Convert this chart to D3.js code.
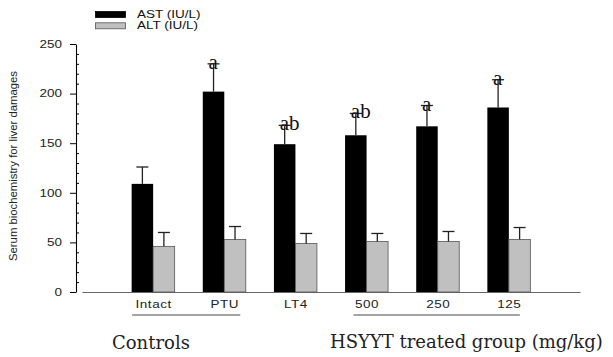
<!DOCTYPE html>
<html>
<head>
<meta charset="utf-8">
<script src="https://cdn.jsdelivr.net/npm/d3@7/dist/d3.min.js"></script>
<style>
  html, body { margin: 0; padding: 0; background: #fff; }
  svg { display: block; }
</style>
</head>
<body>
<svg id="chart" width="613" height="357"></svg>
<script>
// ---- data ----
const categories = ["Intact", "PTU", "LT4", "500", "250", "125"];
const astValues = [109, 202, 149, 158, 167, 186];
const astErrors = [17, 28, 19, 22, 21, 28];
const altValues = [46, 53, 49, 51, 51, 53];
const altErrors = [14, 13, 10, 8, 10, 12];
const sigLabels = ["", "a", "ab", "ab", "a", "a"];
const yTicks = [0, 50, 100, 150, 200, 250];
const seriesNames = ["AST (IU/L)", "ALT (IU/L)"];
const groupLabels = ["Controls", "HSYYT treated group (mg/kg)"];

// ---- layout ----
const svg = d3.select("#chart");
const SX = 1.35; // horizontal stretch of sans text
const sans = "Liberation Sans, Arial, sans-serif";

const y = d3.scaleLinear().domain([0, 250]).range([292, 44]);
const x = d3.scalePoint().domain(categories).range([82, 580]).padding(1);
const barW = 21.5;

// y axis
const yAxis = svg.append("g").attr("transform", "translate(76,0)")
  .call(d3.axisLeft(y).tickValues(yTicks).tickSize(6).tickSizeOuter(0).tickPadding(14));
yAxis.select(".domain").attr("stroke", "#000").attr("stroke-width", 1.1);
yAxis.selectAll(".tick line").attr("stroke", "#000");
yAxis.selectAll(".tick text")
  .attr("font-family", sans).attr("font-size", 10).attr("fill", "#222")
  .attr("x", -14 / SX).attr("transform", `scale(${SX},1)`);

// minor ticks (inward)
const minor = d3.range(0, 251, 10).filter(v => v % 50 !== 0);
const yMinor = svg.append("g").attr("transform", "translate(76,0)")
  .call(d3.axisRight(y).tickValues(minor).tickSize(3).tickFormat(""));
yMinor.select(".domain").remove();
yMinor.selectAll(".tick line").attr("stroke", "#000");

// x axis
const xAxis = svg.append("g").attr("transform", "translate(0,292)")
  .call(d3.axisBottom(x).tickSize(0).tickSizeOuter(0).tickPadding(9));
xAxis.select(".domain").attr("stroke", "#666").attr("stroke-width", 1.2);
xAxis.selectAll(".tick text")
  .attr("font-family", sans).attr("font-size", 10).attr("fill", "#222")
  .attr("transform", `scale(${SX},1)`).attr("letter-spacing", 0.4);

// bars
const groups = svg.append("g");
categories.forEach((c, i) => {
  const cx = x(c);
  // AST
  groups.append("rect")
    .attr("x", cx - barW).attr("y", y(astValues[i]))
    .attr("width", barW).attr("height", y(0) - y(astValues[i]))
    .attr("fill", "#000");
  // ALT
  groups.append("rect")
    .attr("x", cx).attr("y", y(altValues[i]))
    .attr("width", barW).attr("height", y(0) - y(altValues[i]))
    .attr("fill", "#c0c0c0").attr("stroke", "#555").attr("stroke-width", 0.8);
  // error bars
  [[cx - barW / 2, astValues[i], astErrors[i]], [cx + barW / 2, altValues[i], altErrors[i]]]
    .forEach(([ex, v, e]) => {
      groups.append("line").attr("x1", ex).attr("x2", ex)
        .attr("y1", y(v)).attr("y2", y(v + e)).attr("stroke", "#222").attr("stroke-width", 1.3);
      groups.append("line").attr("x1", ex - 6).attr("x2", ex + 6)
        .attr("y1", y(v + e)).attr("y2", y(v + e)).attr("stroke", "#222").attr("stroke-width", 1.3);
    });
  // significance labels
  if (sigLabels[i]) {
    groups.append("text")
      .attr("x", cx - barW / 2 - 5).attr("y", y(astValues[i] + astErrors[i]) + 5)
      .attr("font-family", "Liberation Serif, Times New Roman, serif")
      .attr("font-size", 21).attr("fill", "#111")
      .text(sigLabels[i]);
  }
});

// legend
const legend = svg.append("g");
seriesNames.forEach((name, i) => {
  const ly = 11.5 + i * 11.3;
  legend.append("rect").attr("x", 95.5).attr("y", ly).attr("width", 30).attr("height", 6)
    .attr("fill", i === 0 ? "#000" : "#c0c0c0").attr("stroke", i === 0 ? "#000" : "#555")
    .attr("stroke-width", 0.8);
  legend.append("text")
    .attr("transform", `translate(137,${ly + 6.3}) scale(${SX},1)`)
    .attr("font-family", sans).attr("font-size", 10).attr("fill", "#111")
    .text(name);
});

// y label
svg.append("text")
  .attr("transform", "translate(17,166) rotate(-90)")
  .attr("text-anchor", "middle")
  .attr("font-family", sans).attr("font-size", 10.5).attr("fill", "#222")
  .attr("textLength", 190).attr("lengthAdjust", "spacingAndGlyphs")
  .text("Serum biochemistry for liver damages");

// group underlines
svg.append("line").attr("x1", x("Intact") - 21).attr("x2", x("PTU") + 16)
  .attr("y1", 315).attr("y2", 315).attr("stroke", "#333").attr("stroke-width", 0.9);
svg.append("line").attr("x1", x("500") - 13).attr("x2", x("125") + 11)
  .attr("y1", 315).attr("y2", 315).attr("stroke", "#333").attr("stroke-width", 0.9);

// group labels
svg.append("text").attr("x", 112).attr("y", 349)
  .attr("font-family", "DejaVu Serif, serif").attr("font-size", 18).attr("fill", "#222")
  .text(groupLabels[0]);
svg.append("text").attr("x", 330).attr("y", 348)
  .attr("font-family", "DejaVu Serif, serif").attr("font-size", 18).attr("fill", "#222")
  .text(groupLabels[1]);
</script>
</body>
</html>
